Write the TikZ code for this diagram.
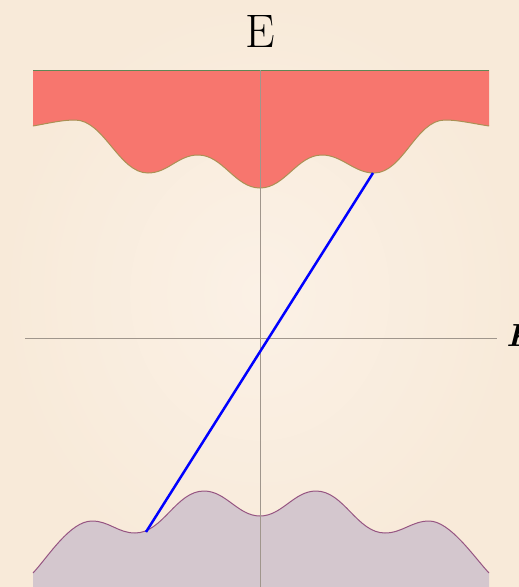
\documentclass[tikz,border=0pt]{standalone}
\usepackage{fontspec}
\definecolor{bgin}{RGB}{251,241,230}
\definecolor{bgout}{RGB}{248,234,217}
\definecolor{bandred}{RGB}{247,118,110}
\definecolor{redtop}{RGB}{95,135,85}
\definecolor{rededge}{RGB}{170,145,85}
\definecolor{bandpur}{RGB}{212,199,206}
\definecolor{puredge}{RGB}{150,85,130}
\definecolor{axisgray}{RGB}{160,150,140}
\tikzset{
  axisline/.style={draw=axisgray, line width=0.8pt},
  bandedge/.style={line width=1pt},
  transition/.style={draw=blue, line width=2.5pt},
  axislabel/.style={inner sep=0pt, text=black}
}
\begin{document}
\begin{tikzpicture}[x=1pt,y=-1pt]
\useasboundingbox (0,0) rectangle (519,587);
\shade[inner color=bgin, outer color=bgout] (0,0) rectangle (519,587);
% red (conduction) band
\fill[bandred] (33,70) -- (33,126)
  .. controls (50,123) and (62,120) .. (75,120)
  .. controls (104,120) and (119,173) .. (148,173)
  .. controls (168,173) and (178,155) .. (198,155)
  .. controls (223,155) and (235,188) .. (260,188)
  .. controls (285,188) and (297,155) .. (322,155)
  .. controls (342,155) and (354,173) .. (374,173)
  .. controls (403,173) and (416,120) .. (445,120)
  .. controls (458,120) and (470,123) .. (489,126)
  -- (489,70) -- cycle;
\draw[rededge, bandedge] (33,126)
  .. controls (50,123) and (62,120) .. (75,120)
  .. controls (104,120) and (119,173) .. (148,173)
  .. controls (168,173) and (178,155) .. (198,155)
  .. controls (223,155) and (235,188) .. (260,188)
  .. controls (285,188) and (297,155) .. (322,155)
  .. controls (342,155) and (354,173) .. (374,173)
  .. controls (403,173) and (416,120) .. (445,120)
  .. controls (458,120) and (470,123) .. (489,126);
\draw[redtop, bandedge] (33,70) -- (489,70);
% purple (valence) band
\fill[bandpur] (33,600) -- (33,573)
  .. controls (48,557) and (70,521) .. (92,521)
  .. controls (109,521) and (118,533) .. (135,533)
  .. controls (163,533) and (176,491) .. (204,491)
  .. controls (226,491) and (238,516) .. (260,516)
  .. controls (282,516) and (294,491) .. (316,491)
  .. controls (344,491) and (357,533) .. (385,533)
  .. controls (402,533) and (412,521) .. (429,521)
  .. controls (450,521) and (474,557) .. (489,573)
  -- (489,600) -- cycle;
\draw[puredge, bandedge] (33,573)
  .. controls (48,557) and (70,521) .. (92,521)
  .. controls (109,521) and (118,533) .. (135,533)
  .. controls (163,533) and (176,491) .. (204,491)
  .. controls (226,491) and (238,516) .. (260,516)
  .. controls (282,516) and (294,491) .. (316,491)
  .. controls (344,491) and (357,533) .. (385,533)
  .. controls (402,533) and (412,521) .. (429,521)
  .. controls (450,521) and (474,557) .. (489,573);
% axes
\coordinate (xl) at (25,338);
\coordinate (xr) at (497,338);
\coordinate (yt) at (260,70);
\coordinate (yb) at (260,590);
\draw[axisline] (xl) -- (xr);
\draw[axisline] (yt) -- (yb);
\node[axislabel, font=\fontsize{47}{47}\selectfont] (E) at (260,31) {E};
\node[axislabel, anchor=west, font=\fontsize{32}{32}\selectfont\bfseries\itshape] (K) at (506,336) {K};
% transition
\coordinate (lo) at (146,532);
\coordinate (hi) at (373,173);
\draw[transition] (lo) -- (hi);
\end{tikzpicture}
\end{document}
